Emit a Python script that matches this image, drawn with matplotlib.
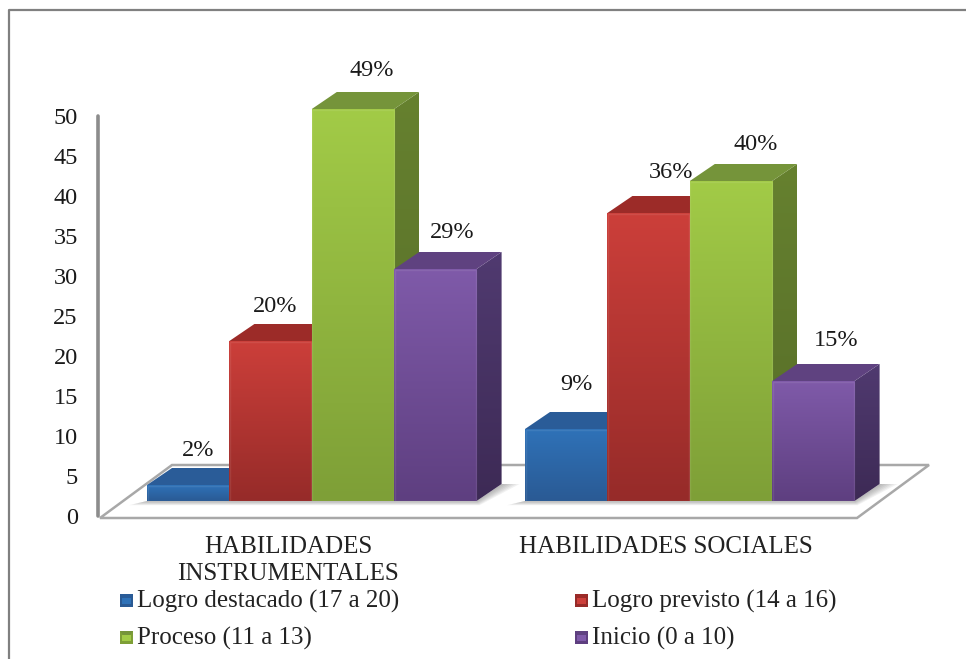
import numpy as np
import matplotlib
matplotlib.use('Agg')
import matplotlib.pyplot as plt
from matplotlib.patches import Polygon, Rectangle
from matplotlib.lines import Line2D
from matplotlib.colors import to_rgb

plt.rcParams['font.family'] = ['Liberation Serif', 'DejaVu Serif']

# Values
categories = ['HABILIDADES\nINSTRUMENTALES', 'HABILIDADES SOCIALES']
series_names = ['Logro destacado (17 a 20)', 'Logro previsto (14 a 16)',
                'Proceso (11 a 13)', 'Inicio (0 a 10)']
logro_destacado = [2, 9]
logro_previsto = [20, 36]
proceso = [49, 40]
inicio = [29, 15]
pct_labels = [['2%', '9%'], ['20%', '36%'], ['49%', '40%'], ['29%', '15%']]
y_ticks = list(range(0, 55, 5))

series = [logro_destacado, logro_previsto, proceso, inicio]

# front top, front bottom, side top, side bottom, roof
colors = [
    ('#2f72b8', '#2a5a94', '#234a78', '#1d3c62', '#2a5c98'),
    ('#cc3f3a', '#962b29', '#7c2422', '#6a1f1d', '#9c2b28'),
    ('#a2cb47', '#7e9f37', '#66812f', '#566c28', '#75943a'),
    ('#7f5aa9', '#5e3f80', '#503a70', '#3d2a55', '#5f4280'),
]

W, H = 966, 659
PX = 8.0            # pixels per value unit
BASE = 15 / PX      # bars stand on the floor, above the axis zero
DX, DY = 25, 17 / PX
BAR_W = 82.4
group_left = [147, 525]

fig = plt.figure(figsize=(W / 100, H / 100), dpi=100)
ax = fig.add_axes([0, (H - 516) / H, 1, 400 / H])
ax.patch.set_alpha(0)

# outer frame, only left and top show
fig.add_artist(Line2D([9 / W, 9 / W, 1], [0, 1 - 10 / H, 1 - 10 / H], transform=fig.transFigure,
                      color='#808080', lw=1.6))


def gradient(top, bottom):
    t = np.linspace(0, 1, 256)[:, None, None]
    return np.array(to_rgb(top))[None, None, :] * (1 - t) + np.array(to_rgb(bottom))[None, None, :] * t


def draw_bar(x, v, c, z):
    top = BASE + v
    # side face with the gradient clipped to a parallelogram
    im = ax.imshow(gradient(c[2], c[3]), extent=(x + BAR_W, x + BAR_W + DX, BASE, top + DY), aspect='auto',
                   origin='upper', zorder=z)
    side = Polygon([(x + BAR_W, BASE), (x + BAR_W + DX, BASE + DY), (x + BAR_W + DX, top + DY),
                    (x + BAR_W, top)], closed=True, fc='none', ec='none')
    ax.add_patch(side)
    im.set_clip_box(fig.bbox)
    im.set_clip_path(side)
    # roof
    ax.add_patch(Polygon([(x, top), (x + BAR_W, top), (x + BAR_W + DX, top + DY), (x + DX, top + DY)],
                         closed=True, fc=c[4], ec='none', zorder=z, clip_on=False))
    # front
    ax.imshow(gradient(c[0], c[1]), extent=(x, x + BAR_W, BASE, top), aspect='auto', origin='upper',
              zorder=z + 0.1, clip_on=False)
    ax.add_patch(Rectangle((x + 0.5, BASE), BAR_W - 1, v - 0.5 / PX, fc='none', ec='white', alpha=0.08, lw=1,
                           zorder=z + 0.2, clip_on=False))


# floor
floor = [(100, -2 / PX), (857, -2 / PX), (929, 51 / PX), (172, 51 / PX)]
ax.add_patch(Polygon(floor, closed=True, fc='white', ec='#a8a8a8', lw=1.8, zorder=1, clip_on=False))

# soft shadows on the floor
for x0 in group_left:
    x_end = x0 + 4 * BAR_W
    for k in range(1, 7):
        grow = 7 - k
        ax.add_patch(Polygon([(x0 - 3 * grow, BASE - 0.7 * grow / PX), (x_end + 0.5 * grow, BASE - 0.7 * grow / PX),
                              (x_end + DX + 3 * grow, BASE + DY), (x_end + DX, BASE + DY), (x_end, BASE), (x0, BASE)],
                             closed=True, fc='#444444', ec='none', alpha=0.07, zorder=1.5, clip_on=False))

z = 2
for g, x0 in enumerate(group_left):
    for s, vals in enumerate(series):
        draw_bar(x0 + s * BAR_W, vals[g], colors[s], z)
        z += 1

# data labels, pixel shifts from the bar's roof
label_gap = [[17, 27], [18, 24], [21, 20], [20, 24]]
label_dx = [[0, 1], [-5, 13], [9, 15], [7, 13]]
for s, vals in enumerate(series):
    for g, v in enumerate(vals):
        x = group_left[g] + s * BAR_W + BAR_W / 2 + DX / 2 - 3 + label_dx[s][g]
        ax.text(x, BASE + v + DY + label_gap[s][g] / PX, pct_labels[s][g], ha='center', va='center',
                fontsize=17.5, color='#1a1a1a', zorder=50, clip_on=False)

ax.set_xlim(0, W)
ax.set_ylim(0, 50)
for name in ['top', 'right', 'bottom']:
    ax.spines[name].set_visible(False)
ax.spines['left'].set_position(('data', 98))
ax.spines['left'].set_color('#8c8c8c')
ax.spines['left'].set_linewidth(2.6)
ax.spines['left'].set_capstyle('round')
ax.set_xticks([])
ax.set_yticks(y_ticks)
ax.tick_params(axis='y', length=0, pad=14.5, labelsize=17.5, labelcolor='#1a1a1a')

# category labels
for x, cat in zip([288, 666], categories):
    fig.text(x / W, 1 - 536 / H, cat, ha='center', va='top', fontsize=18, color='#222222',
             linespacing=1.28)

# legend
legend_pos = [(120, 600), (575, 600), (120, 637), (575, 637)]
for (lx, ly), name, c in zip(legend_pos, series_names, colors):
    fig.add_artist(Rectangle((lx / W, 1 - (ly + 7) / H), 13 / W, 13 / H, transform=fig.transFigure,
                             fc=c[1], ec='none'))
    fig.add_artist(Polygon([(lx / W, 1 - (ly - 6) / H), ((lx + 13) / W, 1 - (ly - 6) / H),
                            ((lx + 10) / W, 1 - (ly - 2) / H), ((lx + 3) / W, 1 - (ly - 2) / H)],
                           closed=True, transform=fig.transFigure, fc=c[4], ec='none'))
    fig.add_artist(Rectangle(((lx + 2) / W, 1 - (ly + 4) / H), 9 / W, 6 / H, transform=fig.transFigure,
                             fc=c[0], ec='none'))
    fig.text((lx + 17) / W, 1 - (ly + 1) / H, name, ha='left', va='center', fontsize=18, color='#222222')

fig.savefig('out.png', dpi=100)
